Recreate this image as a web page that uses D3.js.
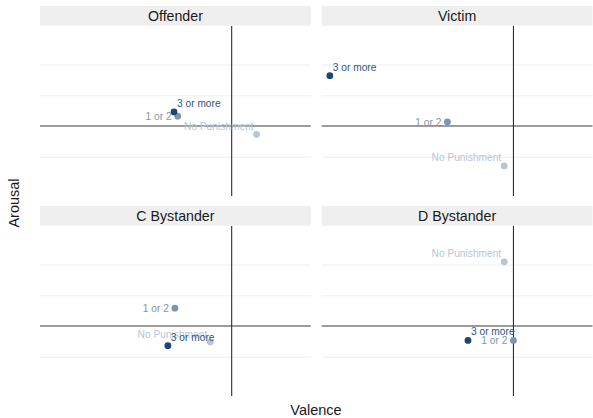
<!DOCTYPE html>
<html>
<head>
<meta charset="utf-8">
<script src="https://cdn.jsdelivr.net/npm/d3@7"></script>
<style>
  html, body { margin: 0; padding: 0; background: #ffffff; }
  svg { display: block; font-family: "Liberation Sans", Arial, Helvetica, sans-serif; }
</style>
</head>
<body>
<svg id="chart" width="593" height="418"></svg>
<script>
// Facets, punishment groups and mean valence / arousal per group
const facets = ["Offender", "Victim", "C Bystander", "D Bystander"];
const groups = ["No Punishment", "1 or 2", "3 or more"];
const valence = [
  [0.81, -1.76, -1.88],   // Offender
  [-0.30, -2.15, -5.98],  // Victim
  [-0.70, -1.85, -2.08],  // C Bystander
  [-0.30, 0.00, -1.48]    // D Bystander
];
const arousal = [
  [-0.27, 0.32, 0.46],
  [-1.30, 0.13, 1.64],
  [-0.52, 0.58, -0.64],
  [2.09, -0.47, -0.47]
];
const gridBreaks = [-1, 1, 2];
const groupColors = ["#b9c5d3", "#7f95ac", "#1c4670"];
const labelColors = ["#b9c5d3", "#7f95ac", "#2b5681"];

const svg = d3.select("#chart");

const panelW = 270.8, panelH = 170;
const stripH = 19.7;
const colX = [40, 321.7];
const rowY = [6, 206];

const x = d3.scaleLinear().domain([-6.245, 2.576]).range([0, panelW]);
const y = d3.scaleLinear().domain([-2.28, 3.257]).range([panelH, 0]);

// label placement relative to each point: [dx, dy, anchor]
const labelPos = [
  [-3, -8, "end"],
  [-6, 0, "end"],
  [3, -8.5, "start"]
];

facets.forEach((name, i) => {
  const gx = colX[i % 2], gy = rowY[Math.floor(i / 2)];
  const g = svg.append("g").attr("transform", `translate(${gx},${gy})`);

  // strip
  g.append("rect").attr("x", 0).attr("y", 0)
    .attr("width", panelW).attr("height", stripH).attr("fill", "#efefef");
  g.append("text").attr("x", panelW / 2).attr("y", 14.5)
    .attr("text-anchor", "middle").attr("font-size", 14.2).attr("fill", "#1a1a1a")
    .text(name);

  const p = g.append("g").attr("transform", `translate(0,${stripH + 0.3})`);

  // horizontal grid lines from the y axis
  const yAxis = d3.axisLeft(y).tickValues(gridBreaks).tickSize(-panelW).tickFormat("");
  const ga = p.append("g").call(yAxis);
  ga.select(".domain").remove();
  ga.selectAll(".tick line").attr("stroke", "#e4ecf2").attr("stroke-width", 0.8);

  // reference lines at zero
  p.append("line").attr("x1", 0).attr("x2", panelW)
    .attr("y1", y(0)).attr("y2", y(0))
    .attr("stroke", "#3a3a3a").attr("stroke-width", 1);
  p.append("line").attr("x1", x(0)).attr("x2", x(0))
    .attr("y1", 0).attr("y2", panelH)
    .attr("stroke", "#1a1a1a").attr("stroke-width", 1);

  const rows = groups.map((grp, k) => ({ grp, k, vx: valence[i][k], vy: arousal[i][k] }));

  p.selectAll("circle").data(rows).join("circle")
    .attr("cx", d => x(d.vx)).attr("cy", d => y(d.vy))
    .attr("r", 3.4).attr("fill", d => groupColors[d.k]);

  p.selectAll("text.lab").data(rows).join("text").attr("class", "lab")
    .attr("x", d => x(d.vx) + labelPos[d.k][0])
    .attr("y", d => y(d.vy) + labelPos[d.k][1])
    .attr("dy", "0.35em")
    .attr("text-anchor", d => labelPos[d.k][2])
    .attr("font-size", 10.2)
    .attr("fill", d => labelColors[d.k])
    .text(d => d.grp);
});

// axis titles
svg.append("text").attr("x", 316).attr("y", 415)
  .attr("text-anchor", "middle").attr("font-size", 14.5).attr("fill", "#1a1a1a")
  .text("Valence");
svg.append("text")
  .attr("transform", "translate(18.5,203) rotate(-90)")
  .attr("text-anchor", "middle").attr("font-size", 14.5).attr("fill", "#1a1a1a")
  .text("Arousal");
</script>
</body>
</html>
